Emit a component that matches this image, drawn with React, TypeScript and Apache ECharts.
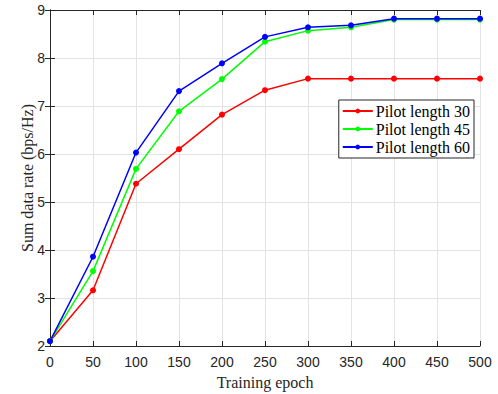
import React, { useEffect, useRef } from "react";
import * as echarts from "echarts";

const epochs = [0, 50, 100, 150, 200, 250, 300, 350, 400, 450, 500];
const pilot30 = [2.1, 3.16, 5.38, 6.1, 6.82, 7.33, 7.57, 7.57, 7.57, 7.57, 7.57];
const pilot45 = [2.1, 3.56, 5.69, 6.89, 7.56, 8.34, 8.57, 8.64, 8.8, 8.8, 8.8];
const pilot60 = [2.1, 3.86, 6.03, 7.31, 7.89, 8.44, 8.64, 8.68, 8.82, 8.82, 8.82];
const seriesNames = ["Pilot length 30", "Pilot length 45", "Pilot length 60"];
const colors = ["#ff0000", "#00ff00", "#0000ff"];

const FONT = "Liberation Serif";
const TICKFONT = "Liberation Sans";

export default function App() {
  const ref = useRef<HTMLDivElement>(null);
  useEffect(() => {
    if (!ref.current) return;
    const chart = echarts.init(ref.current, null, { renderer: "svg" });
    const mk = (name: string, vals: number[], color: string) => ({
      name,
      type: "line",
      data: epochs.map((e, i) => [e, vals[i]]),
      symbol: "circle",
      symbolSize: 6,
      lineStyle: { color, width: 1.5 },
      itemStyle: { color },
      xAxisIndex: 0,
      yAxisIndex: 0,
    });
    const axisLine = { show: true, lineStyle: { color: "#262626", width: 1 } };
    const tick = { show: true, inside: true, length: 5, lineStyle: { color: "#262626" } };
    chart.setOption({
      animation: false,
      backgroundColor: "#ffffff",
      grid: {
        left: 50,
        right: 18,
        top: 10,
        bottom: 48,
        containLabel: false,
        outerBoundsMode: "none",
      },
      legend: {
        right: 24,
        top: 100,
        orient: "vertical",
        backgroundColor: "#ffffff",
        borderColor: "#262626",
        borderWidth: 1,
        padding: [3, 4, 3, 3],
        itemGap: 2,
        itemWidth: 30,
        itemHeight: 6,
        textStyle: { fontFamily: FONT, fontSize: 16, color: "#000", padding: [0, 0, 0, -2] },
        data: seriesNames,
      },
      xAxis: [
        {
          type: "value",
          min: 0,
          max: 500,
          interval: 50,
          position: "bottom",
          name: "Training epoch",
          nameLocation: "middle",
          nameGap: 28,
          nameMoveOverlap: false,
          nameTextStyle: { fontFamily: FONT, fontSize: 16, color: "#262626" },
          axisLine,
          axisTick: tick,
          axisLabel: { fontFamily: TICKFONT, fontSize: 14, color: "#262626", margin: 9 },
          splitLine: { show: true, lineStyle: { color: "#e3e3e3", width: 1 } },
        },
        {
          type: "value",
          min: 0,
          max: 500,
          interval: 50,
          position: "top",
          axisLine,
          axisTick: tick,
          axisLabel: { show: false },
          splitLine: { show: false },
        },
      ],
      yAxis: [
        {
          type: "value",
          min: 2,
          max: 9,
          interval: 1,
          position: "left",
          name: "Sum data rate (bps/Hz)",
          nameLocation: "middle",
          nameGap: 15,
          nameMoveOverlap: false,
          nameTextStyle: { fontFamily: FONT, fontSize: 16, color: "#262626" },
          axisLine,
          axisTick: tick,
          axisLabel: { fontFamily: TICKFONT, fontSize: 14, color: "#262626", margin: 5 },
          splitLine: { show: true, lineStyle: { color: "#e3e3e3", width: 1 } },
        },
        {
          type: "value",
          min: 2,
          max: 9,
          interval: 1,
          position: "right",
          axisLine,
          axisTick: tick,
          axisLabel: { show: false },
          splitLine: { show: false },
        },
      ],
      series: [
        mk(seriesNames[0], pilot30, colors[0]),
        mk(seriesNames[1], pilot45, colors[1]),
        mk(seriesNames[2], pilot60, colors[2]),
      ],
    });
    return () => chart.dispose();
  }, []);
  return <div ref={ref} style={{ width: 498, height: 394, position: "absolute", left: 0, top: 0 }} />;
}
